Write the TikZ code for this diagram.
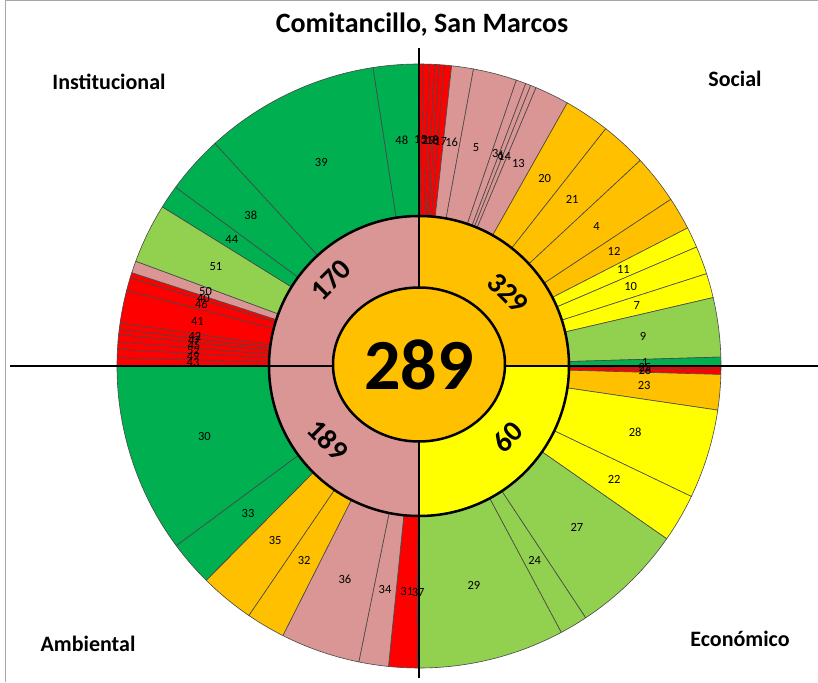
\documentclass[tikz,border=0pt]{standalone}
\usepackage{fontspec}
\setmainfont{Carlito}
\usetikzlibrary{positioning}
\definecolor{dgreen}{HTML}{00B050}
\definecolor{lgreen}{HTML}{92D050}
\definecolor{amber}{HTML}{FFC000}
\definecolor{rose}{HTML}{DA9694}
\definecolor{yel}{HTML}{FFFF00}
\definecolor{rd}{HTML}{FF0000}
% start angle / end angle / colour / indicator
\newcommand\slicelist{%
90/89.2/rd/15, 89.2/88/rd/2, 88/87/rd/19, 87/86.2/rd/18, 86.2/85.2/rd/8, 85.2/83.8/rd/17,
83.8/79.6/rose/16, 79.6/71.2/rose/5, 71.2/69.3/rose/3, 69.3/68.3/rose/6, 68.3/67.2/rose/14,
67.2/60.6/rose/13, 60.6/51.8/amber/20, 51.8/42.9/amber/21, 42.9/33.5/amber/4, 33.5/27.2/amber/12,
27.2/23.2/yel/11, 23.2/17.8/yel/10, 17.8/13.1/yel/7, 13.1/1.7/lgreen/9, 1.7/0/dgreen/1,
0/-0.6/rd/25, -0.6/-1.6/rd/26, -1.6/-8.4/amber/23, -8.4/-25.6/yel/28, -25.6/-34.9/yel/22,
-34.9/-56.5/lgreen/27, -56.5/-61.9/lgreen/24, -61.9/-90/lgreen/29,
270/269.6/rd/37, 269.6/264.2/rd/31, 264.2/258.5/rose/34, 258.5/243.2/rose/36, 243.2/235.7/amber/32,
235.7/225.2/amber/35, 225.2/216.5/dgreen/33, 216.5/180/dgreen/30,
180/178.4/rd/43, 178.4/176.8/rd/49, 176.8/175.4/rd/52, 175.4/174/rd/45, 174/173/rd/47,
173/171.8/rd/42, 171.8/165.5/rd/41, 165.5/163/rd/46, 163/162/rd/40, 162/159.7/rose/50,
159.7/148.2/lgreen/51, 148.2/143.7/dgreen/44, 143.7/132.5/dgreen/38, 132.5/98.75/dgreen/39,
98.75/90/dgreen/48}

\begin{document}
\begin{tikzpicture}[x=1pt,y=1pt,
  slice/.style={draw=black!72,line width=0.6pt},
  ring/.style={draw=black,line width=2.5pt},
  axis/.style={draw=black,line width=2.8pt},
  num/.style={font=\fontsize{12.5}{13}\selectfont,inner sep=0pt},
  sum/.style={font=\fontsize{29}{32}\selectfont\bfseries,inner sep=0pt},
  quad/.style={font=\fontsize{22}{25}\selectfont\bfseries,inner sep=0pt}]
\useasboundingbox (-419,-316) rectangle (399,366);
\draw[black!35,line width=1pt] (-413,-316) -- (-413,365) -- (399,365);

% outer ring
\foreach \a/\b/\c/\l in \slicelist {
  \draw[slice,fill=\c] (\a:150) arc[start angle=\a,end angle=\b,radius=150]
    -- (\b:302) arc[start angle=\b,end angle=\a,radius=302] -- cycle;
}
\foreach \a/\b/\c/\l in \slicelist {
  \node[num] (n\l) at ({(\a+\b)/2}:226) {\l};
}

% middle ring
\fill[amber] (0,0) -- (90:150) arc[start angle=90,end angle=0,radius=150] -- cycle;
\fill[yel] (0,0) -- (0:150) arc[start angle=0,end angle=-90,radius=150] -- cycle;
\fill[rose] (0,0) -- (-90:150) arc[start angle=270,end angle=90,radius=150] -- cycle;
\draw[ring] (0,0) circle[radius=150];

\coordinate (w) at (-409,0);
\coordinate (e) at (399,0);
\coordinate (n) at (0,318);
\coordinate (s) at (0,-312);
\draw[axis] (w) -- (e);
\draw[axis] (n) -- (s);

\draw[ring,fill=amber] (0,1.5) ellipse[x radius=86,y radius=77];
\node[font=\fontsize{72}{80}\selectfont\bfseries,inner sep=0pt] (total) at (0,1) {289};

\node[sum,rotate=45] (inst) at (-88,86) {170};
\node[sum,rotate=-45] (soc) at (89,73) {329};
\node[sum,rotate=-45] (amb) at (-91,-74) {189};
\node[sum,rotate=45] (eco) at (89,-71) {60};

\node[font=\fontsize{28}{31}\selectfont\bfseries,inner sep=0pt] (title) at (3,341) {Comitancillo, San Marcos};
\node[quad] (qi) at (-310,284) {Institucional};
\node[quad] (qs) at (316,287) {Social};
\node[quad] (qa) at (-331,-278) {Ambiental};
\node[quad] (qe) at (321,-273) {Económico};
\end{tikzpicture}
\end{document}
